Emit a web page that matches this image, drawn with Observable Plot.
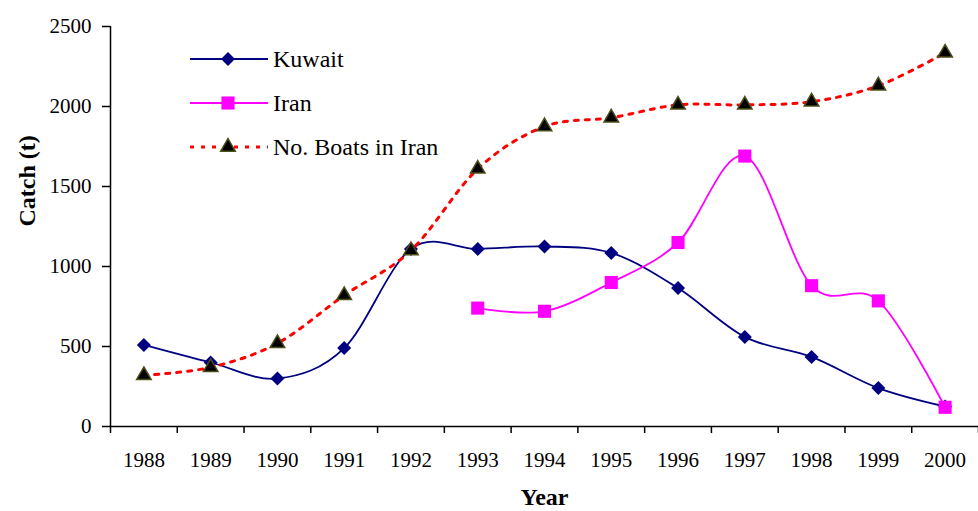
<!DOCTYPE html>
<html><head><meta charset="utf-8">
<script src="https://cdn.jsdelivr.net/npm/d3@7"></script>
<script src="https://cdn.jsdelivr.net/npm/@observablehq/plot@0.6"></script>
<style>
body{margin:0;background:#fff;}
#wrap{position:relative;width:978px;height:511px;font-family:"Liberation Serif","Times New Roman",serif;}
#legend{position:absolute;left:190px;top:37px;}
.row{display:flex;align-items:center;height:44px;font-size:24px;color:#000;}
.row svg{margin-right:5px;display:block}
</style></head><body>
<div id="wrap"><div id="legend"></div></div>
<script>
const years = [1988,1989,1990,1991,1992,1993,1994,1995,1996,1997,1998,1999,2000];
const kuwait = [510,400,300,490,1110,1110,1125,1085,865,560,435,240,125];
const iran = [null,null,null,null,null,740,720,900,1150,1690,880,785,120];
const boats = [320,370,520,820,1100,1610,1875,1930,2010,2010,2030,2130,2335];
const yTicks = [0,500,1000,1500,2000,2500];
const seriesNames = ["Kuwait","Iran","No. Boats in Iran"];
const xTitle = "Year";
const yTitle = "Catch (t)";

const series = [
  {name: seriesNames[0], values: kuwait, stroke: "#000080", width: 1.8, dash: null, symbol: "diamond2", r: 6.3, fill: "#000080", mstroke: "none"},
  {name: seriesNames[1], values: iran, stroke: "#FF00FF", width: 1.8, dash: null, symbol: "square", r: 7.4, fill: "#FF00FF", mstroke: "none"},
  {name: seriesNames[2], values: boats, stroke: "#FF0000", width: 3, dash: "4,7", symbol: "triangle", r: 5.4, fill: "#000000", mstroke: "#4d4d1a"}
];

const bounds = [years[0]-0.5, ...years.map(y => y+0.5)];
const marks = [
  Plot.ruleY([0], {stroke: "#000", strokeWidth: 1.5}),
  Plot.ruleX([bounds[0]], {stroke: "#000", strokeWidth: 1.5}),
  Plot.axisY({ticks: yTicks, tickSize: 8, tickPadding: 11, tickFormat: d => String(d), fontSize: 21, label: null, strokeWidth: 1.5}),
  Plot.axisX({ticks: bounds, tickSize: 7, tickFormat: () => "", label: null, strokeWidth: 1.5}),
  Plot.axisX({ticks: years, tickSize: 0, tickPadding: 26, tickFormat: d => String(d), fontSize: 21, label: null}),
  Plot.text([xTitle], {frameAnchor: "bottom", dy: 78, fontSize: 24, fontWeight: "bold", fill: "#000"}),
  Plot.text([yTitle], {frameAnchor: "left", dx: -83, rotate: -90, fontSize: 24, fontWeight: "bold", fill: "#000"})
];
for (const s of series) {
  const data = years.map((y, i) => ({year: y, v: s.values[i]})).filter(d => d.v != null);
  marks.push(Plot.line(data, {x: "year", y: "v", stroke: s.stroke, strokeWidth: s.width, strokeDasharray: s.dash, curve: "cardinal"}));
  marks.push(Plot.dot(data, {x: "year", y: "v", symbol: s.symbol, r: s.r, fill: s.fill, stroke: s.mstroke, strokeWidth: 1.5}));
}

const chart = Plot.plot({
  width: 978, height: 511,
  marginLeft: 110, marginRight: 0, marginTop: 26, marginBottom: 85,
  x: {type: "linear", domain: [bounds[0], bounds[bounds.length-1]]},
  y: {domain: [0, 2500]},
  style: {fontFamily: '"Liberation Serif","Times New Roman",serif', fontSize: "21px", color: "#000", background: "#fff"},
  marks
});
document.getElementById("wrap").prepend(chart);

// legend
const legend = document.getElementById("legend");
for (const s of series) {
  const row = document.createElement("div");
  row.className = "row";
  const svg = d3.create("svg").attr("width", 78).attr("height", 20);
  svg.append("line").attr("x1", 0).attr("x2", 78).attr("y1", 10).attr("y2", 10)
    .attr("stroke", s.stroke).attr("stroke-width", s.width).attr("stroke-dasharray", s.dash);
  const sym = {diamond2: d3.symbolDiamond2, square: d3.symbolSquare, triangle: d3.symbolTriangle}[s.symbol];
  svg.append("path").attr("transform", "translate(38,10)")
    .attr("d", d3.symbol(sym, Math.PI * s.r * s.r)())
    .attr("fill", s.fill).attr("stroke", s.mstroke).attr("stroke-width", 1.5);
  row.appendChild(svg.node());
  const t = document.createElement("span");
  t.textContent = s.name;
  row.appendChild(t);
  legend.appendChild(row);
}
</script>
</body></html>
